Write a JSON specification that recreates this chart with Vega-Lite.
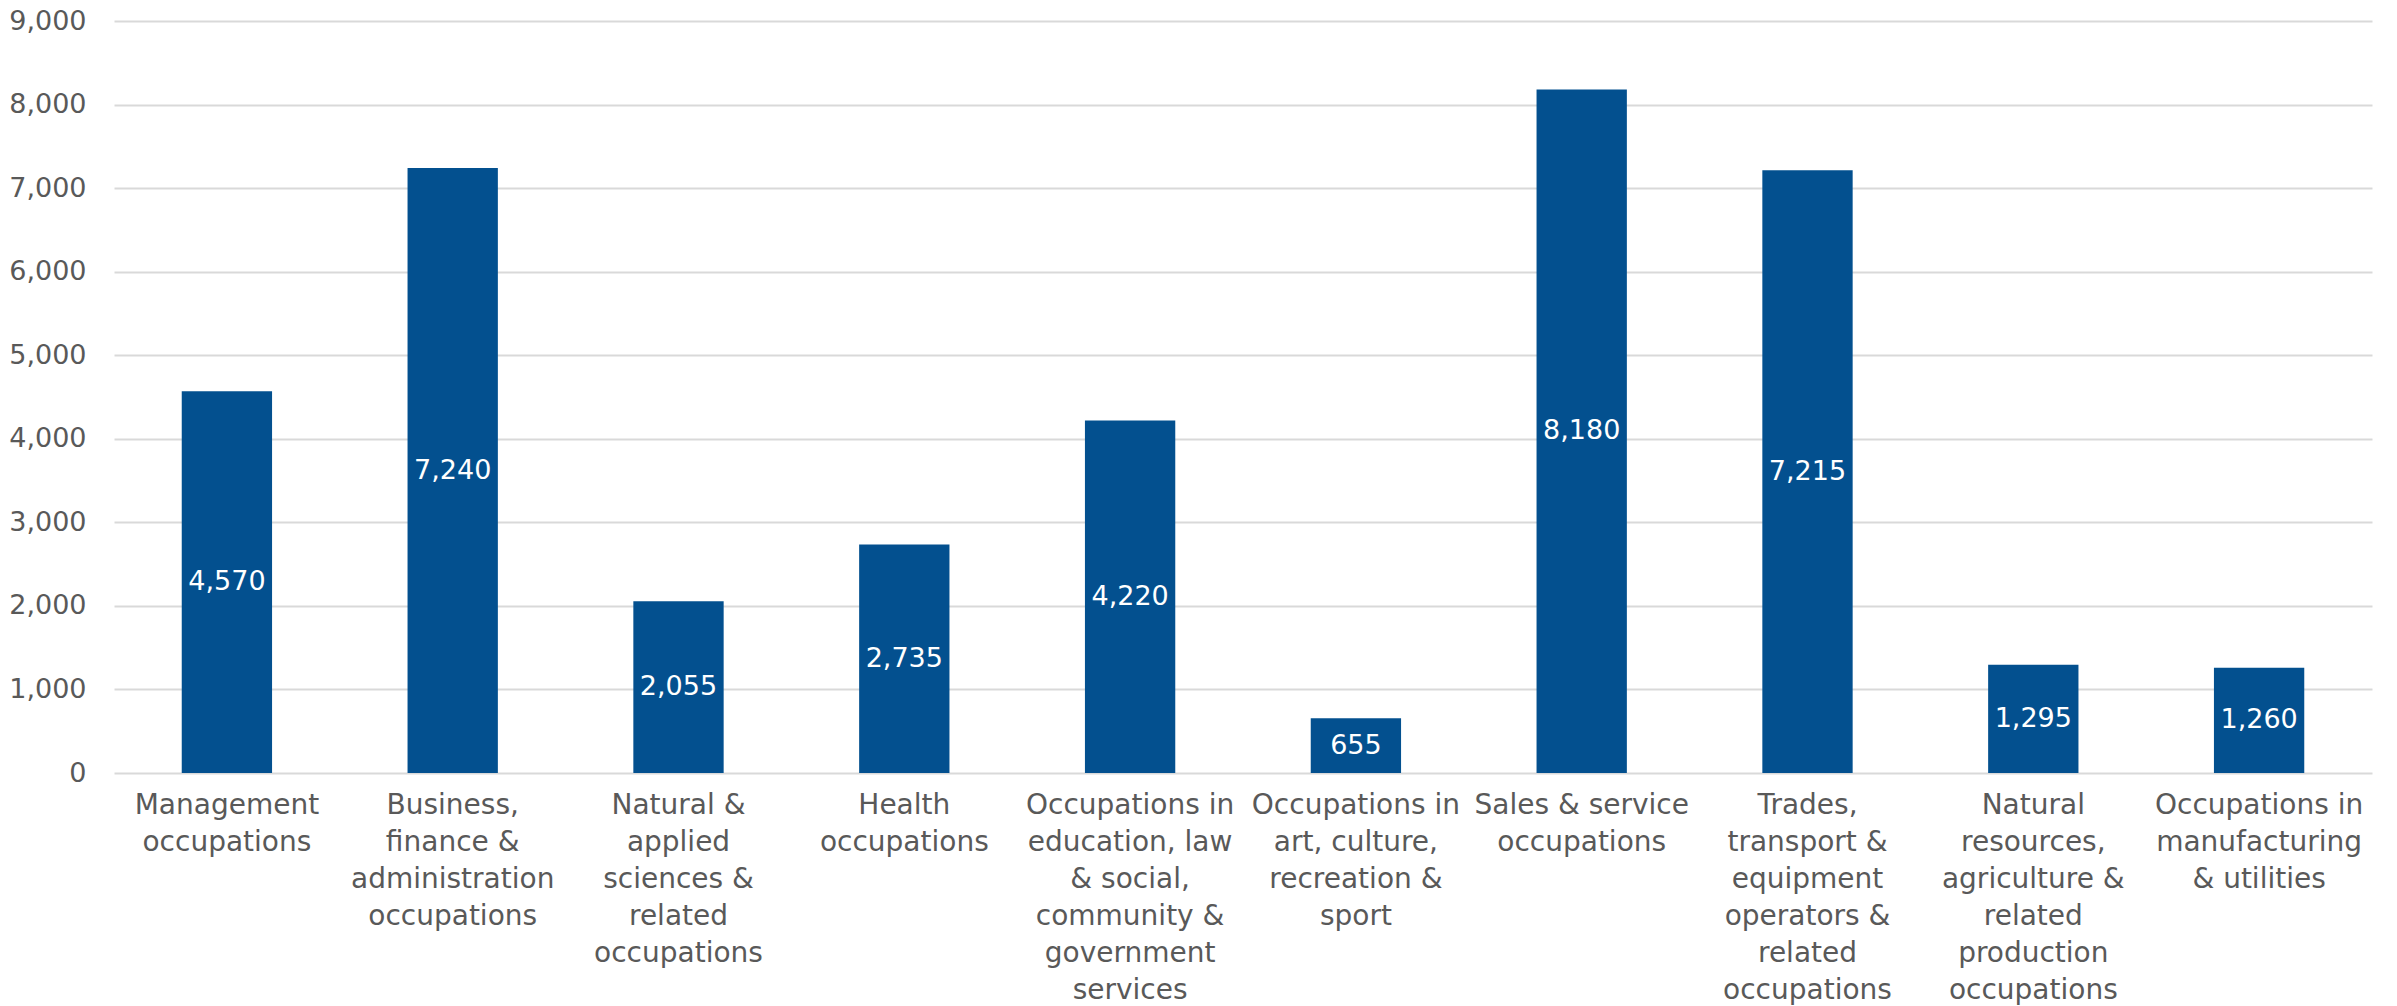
{
  "$schema": "https://vega.github.io/schema/vega-lite/v6.json",
  "autosize": "none",
  "width": 2258,
  "height": 752,
  "padding": {"left": 114, "top": 21, "right": 25, "bottom": 233},
  "background": "white",
  "config": {"view": {"stroke": null}, "font": "DejaVu Sans"},
  "data": {
    "values": [
      {"occupation": "Management occupations", "count": 4570},
      {"occupation": "Business, finance & administration occupations", "count": 7240},
      {"occupation": "Natural & applied sciences & related occupations", "count": 2055},
      {"occupation": "Health occupations", "count": 2735},
      {"occupation": "Occupations in education, law & social, community & government services", "count": 4220},
      {"occupation": "Occupations in art, culture, recreation & sport", "count": 655},
      {"occupation": "Sales & service occupations", "count": 8180},
      {"occupation": "Trades, transport & equipment operators & related occupations", "count": 7215},
      {"occupation": "Natural resources, agriculture & related production occupations", "count": 1295},
      {"occupation": "Occupations in manufacturing & utilities", "count": 1260}
    ]
  },
  "encoding": {
    "x": {
      "field": "occupation",
      "type": "nominal",
      "sort": null,
      "scale": {"paddingInner": 0.6, "paddingOuter": 0.3},
      "axis": {
        "title": null,
        "labelAngle": 0,
        "domain": false,
        "ticks": false,
        "labelFont": "DejaVu Sans",
        "labelFontSize": 28,
        "labelColor": "#595959",
        "labelLineHeight": 37,
        "labelPadding": 18,
        "labelBaseline": "top",
        "labelLimit": 0,
        "labelExpr": "({'Management occupations':['Management','occupations'],'Business, finance & administration occupations':['Business,','finance &','administration','occupations'],'Natural & applied sciences & related occupations':['Natural &','applied','sciences &','related','occupations'],'Health occupations':['Health','occupations'],'Occupations in education, law & social, community & government services':['Occupations in','education, law','& social,','community &','government','services'],'Occupations in art, culture, recreation & sport':['Occupations in','art, culture,','recreation &','sport'],'Sales & service occupations':['Sales & service','occupations'],'Trades, transport & equipment operators & related occupations':['Trades,','transport &','equipment','operators &','related','occupations'],'Natural resources, agriculture & related production occupations':['Natural','resources,','agriculture &','related','production','occupations'],'Occupations in manufacturing & utilities':['Occupations in','manufacturing','& utilities']})[datum.value]"
      }
    }
  },
  "layer": [
    {
      "mark": {"type": "bar", "color": "#03508f"},
      "encoding": {
        "y": {
          "field": "count",
          "type": "quantitative",
          "scale": {"domain": [0, 9000], "nice": false},
          "axis": {
            "title": null,
            "values": [0, 1000, 2000, 3000, 4000, 5000, 6000, 7000, 8000, 9000],
            "format": ",d",
            "domain": false,
            "ticks": false,
            "gridColor": "#d9d9d9",
            "gridWidth": 2,
            "labelFont": "DejaVu Sans",
            "labelFontSize": 27,
            "labelColor": "#595959",
            "labelPadding": 28
          }
        }
      }
    },
    {
      "mark": {"type": "text", "color": "white", "font": "DejaVu Sans", "fontSize": 27, "baseline": "middle"},
      "encoding": {
        "y": {"field": "count", "type": "quantitative", "scale": {"domain": [0, 18000], "nice": false}, "axis": null},
        "text": {"field": "count", "type": "quantitative", "format": ",d"}
      }
    }
  ],
  "resolve": {"scale": {"y": "independent"}}
}
